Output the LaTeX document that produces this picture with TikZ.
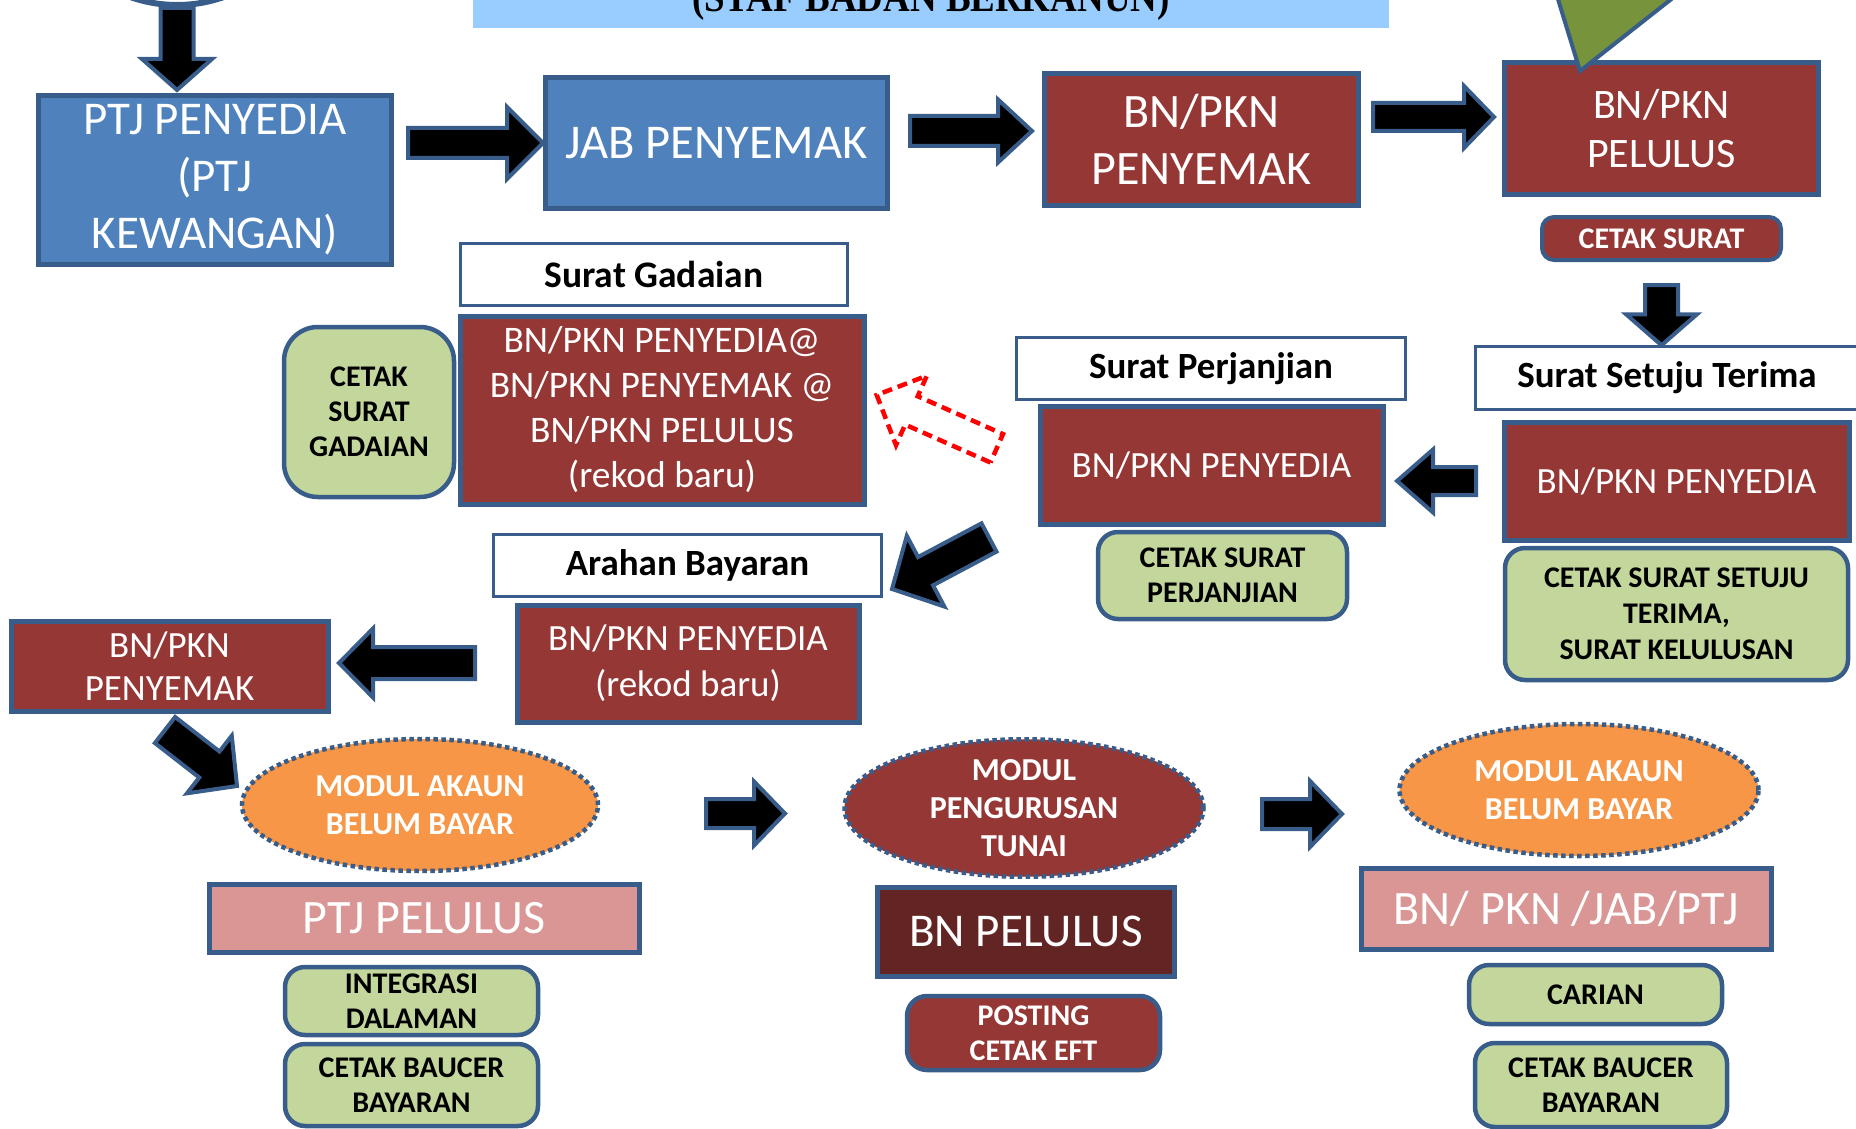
\documentclass[tikz,border=0pt]{standalone}
\usepackage{fontspec}
\setmainfont{Carlito}
\newfontfamily\titlefont{Liberation Serif}
\usetikzlibrary{shapes.geometric,calc}

\definecolor{bord}{HTML}{385D8A}
\definecolor{blu}{HTML}{4F81BD}
\definecolor{brick}{HTML}{953735}
\definecolor{darkbrick}{HTML}{632523}
\definecolor{lgreen}{HTML}{C3D69B}
\definecolor{orng}{HTML}{F79646}
\definecolor{pinkish}{HTML}{D99694}
\definecolor{olive}{HTML}{77933C}
\definecolor{titlebg}{HTML}{99CCFF}

\newcommand{\fs}[2]{\fontsize{#1}{#2}\selectfont}
% block arrow: from, tip, shaft half width, head half width, head length
\newcommand{\blockarrow}[6][barrow]{%
  \coordinate (ba-h) at ($(#3)!#6!(#2)$);
  \draw[#1] ($(#2)!#4!90:(#3)$) -- ($(ba-h)!#4!90:(#3)$) -- ($(ba-h)!#5!90:(#3)$)
    -- (#3) -- ($(ba-h)!#5!-90:(#3)$) -- ($(ba-h)!#4!-90:(#3)$)
    -- ($(#2)!#4!-90:(#3)$) -- cycle;}

\begin{document}
\begin{tikzpicture}[x=1pt, y=-1pt,
	cell/.style={draw=bord, line width=5pt, align=center, inner sep=0pt, text=white},
	bluebox/.style={cell, fill=blu, font=\fs{47}{57}},
	redbox/.style={cell, fill=brick, font=\fs{37}{45}},
	pinkbox/.style={cell, fill=pinkish, font=\fs{48}{55}},
	greenbox/.style={cell, line width=4.5pt, fill=lgreen, text=black, rounded corners=20pt, font=\bfseries\fs{30}{35}},
	tagbox/.style={draw=bord, line width=2.5pt, fill=white, inner sep=0pt, font=\bfseries\fs{37}{40}},
	modul/.style={ellipse, draw=bord, line width=4.5pt, dash pattern=on 4.5pt off 3.5pt, inner sep=0pt, align=center, text=white, font=\bfseries\fs{32}{38}},
	barrow/.style={fill=black, draw=bord, line width=4pt},
	dasharrow/.style={draw=red, line width=4.5pt, dash pattern=on 10pt off 6pt}]
	\path[use as bounding box] (0,0) rectangle (1856,1129);
	\clip (0,0) rectangle (1856,1129);

	\node[fill=titlebg, minimum width=916pt, minimum height=60pt, inner sep=0pt] (titlebar) at (931,-2) {};
	\node[font=\titlefont\bfseries\fs{42}{42}, anchor=base, inner sep=0pt] (title) at (931,12) {\scalebox{0.88}[1]{(STAF BADAN BERKANUN)}};

	\node[circle, draw=bord, line width=6pt, fill=white, minimum size=280pt] (start) at (177,-135) {};
	\node[bluebox, minimum width=353pt, minimum height=168pt] (ptj) at (215,180) {PTJ PENYEDIA\\(PTJ\\KEWANGAN)};
	\node[bluebox, font=\fs{48.5}{57}, minimum width=342pt, minimum height=131pt] (jab) at (716.5,143) {JAB PENYEMAK};
	\node[redbox, font=\fs{48}{57}, minimum width=314pt, minimum height=132pt] (semak1) at (1201.5,139.5) {BN/PKN\\PENYEMAK};
	\node[redbox, font=\fs{42}{49}, minimum width=314pt, minimum height=132pt] (lulus1) at (1661.5,128.5) {BN/PKN\\PELULUS};
	\draw[fill=olive, draw=bord, line width=4pt] (1546,-40) -- (1580,71) -- (1721,-40) -- cycle;
	\node[cell, fill=brick, line width=4pt, rounded corners=12pt, minimum width=239pt, minimum height=43pt, font=\bfseries\fs{30}{35}] (csurat) at (1661.5,238.5) {CETAK SURAT};

	\node[tagbox, minimum width=383pt, minimum height=63pt] (sst) at (1667,378) {Surat Setuju Terima};
	\node[redbox, minimum width=345pt, minimum height=118pt] (sedia3) at (1676.5,481) {BN/PKN PENYEDIA};
	\node[greenbox, font=\bfseries\fs{30}{36}, minimum width=343pt, minimum height=132pt] (csst) at (1676.5,614) {CETAK SURAT SETUJU\\TERIMA,\\SURAT KELULUSAN};

	\node[tagbox, minimum width=389pt, minimum height=62pt] (sperj) at (1211,368.5) {Surat Perjanjian};
	\node[redbox, minimum width=343pt, minimum height=118pt] (sedia2) at (1211.5,465.5) {BN/PKN PENYEDIA};
	\node[greenbox, minimum width=249pt, minimum height=87pt] (cperj) at (1222.5,575.5) {CETAK SURAT\\PERJANJIAN};

	\node[tagbox, font=\bfseries\fs{37.5}{40}, minimum width=387pt, minimum height=62pt] (sgad) at (654,274.5) {Surat Gadaian};
	\node[redbox, font=\fs{37.5}{45}, minimum width=404pt, minimum height=188pt] (sedia1) at (662,410) {BN/PKN PENYEDIA@\\BN/PKN PENYEMAK @\\BN/PKN PELULUS\\(rekod baru)};
	\node[greenbox, rounded corners=34pt, minimum width=170pt, minimum height=170pt] (cgad) at (369,412) {CETAK\\SURAT\\GADAIAN};

	\node[tagbox, minimum width=388pt, minimum height=62pt] (arahan) at (687.5,565.5) {Arahan Bayaran};
	\node[redbox, font=\fs{37}{46}, minimum width=342pt, minimum height=117pt] (sedia4) at (688,663.5) {BN/PKN PENYEDIA\\(rekod baru)};
	\node[redbox, font=\fs{37}{43}, minimum width=317pt, minimum height=90pt] (semak2) at (169.5,666) {BN/PKN\\PENYEMAK};

	\node[modul, fill=orng, minimum width=356pt, minimum height=132pt] (akaun1) at (420,805) {MODUL AKAUN\\BELUM BAYAR};
	\node[pinkbox, minimum width=430pt, minimum height=68pt] (ptjlulus) at (424,918) {PTJ PELULUS};
	\node[greenbox, minimum width=253pt, minimum height=68pt] (integ) at (411.5,1001) {INTEGRASI\\DALAMAN};
	\node[greenbox, minimum width=253pt, minimum height=82pt] (baucer1) at (411.5,1085) {CETAK BAUCER\\BAYARAN};

	\node[modul, fill=brick, minimum width=359pt, minimum height=133pt] (tunai) at (1024,808) {MODUL\\PENGURUSAN\\TUNAI};
	\node[pinkbox, fill=darkbrick, font=\fs{47}{55}, minimum width=297pt, minimum height=89pt] (bnlulus) at (1026,931.5) {BN PELULUS};
	\node[greenbox, fill=brick, text=white, minimum width=253pt, minimum height=74pt] (posting) at (1033.5,1033) {POSTING\\CETAK EFT};

	\node[modul, fill=orng, minimum width=359pt, minimum height=132pt] (akaun2) at (1579,790) {MODUL AKAUN\\BELUM BAYAR};
	\node[pinkbox, minimum width=410pt, minimum height=81pt] (semua) at (1566,908.5) {BN/ PKN /JAB/PTJ};
	\node[greenbox, minimum width=253pt, minimum height=59pt] (carian) at (1595.5,994.5) {CARIAN};
	\node[greenbox, minimum width=252pt, minimum height=84pt] (baucer2) at (1601,1085) {CETAK BAUCER\\BAYARAN};

	\coordinate (t0) at (177,90);
	\coordinate (p1) at (408,143);
	\coordinate (p2) at (910,131); \coordinate (q2) at (1032,131);
	\coordinate (p3) at (1373,117); \coordinate (q3) at (1494,117);
	\coordinate (p4) at (1661.5,285); \coordinate (q4) at (p4 |- sst.north);
	\coordinate (p5) at (1476,481); \coordinate (q5) at (1397,481);
	\coordinate (p6) at (996.7,448.3); \coordinate (q6) at (876.7,395);
	\coordinate (p7) at (989,537.5); \coordinate (q7) at (892,589);
	\coordinate (p8) at (475,663); \coordinate (q8) at (339,663);
	\coordinate (p9) at (165,730); \coordinate (q9) at (237,786);
	\coordinate (p10) at (706,813.5); \coordinate (q10) at (785,813.5);
	\coordinate (p11) at (1262,814); \coordinate (q11) at (1342,814);

	\blockarrow{start.south}{t0}{16.5pt}{35pt}{31pt}
	\blockarrow{p1}{jab.west}{15pt}{36pt}{36pt}
	\blockarrow{p2}{q2}{15pt}{31.5pt}{34pt}
	\blockarrow{p3}{q3}{14pt}{31pt}{30pt}
	\blockarrow{p4}{q4}{16.5pt}{35.5pt}{31pt}
	\blockarrow{p5}{q5}{14pt}{31.5pt}{36pt}
	\blockarrow[dasharrow]{p6}{q6}{15.5pt}{38pt}{38pt}
	\blockarrow{p7}{q7}{16pt}{40pt}{38pt}
	\blockarrow{p8}{q8}{16pt}{34.5pt}{34pt}
	\blockarrow{p9}{q9}{16.5pt}{36.5pt}{35pt}
	\blockarrow{p10}{q10}{14.5pt}{32pt}{31pt}
	\blockarrow{p11}{q11}{15pt}{33pt}{32pt}
\end{tikzpicture}
\end{document}
